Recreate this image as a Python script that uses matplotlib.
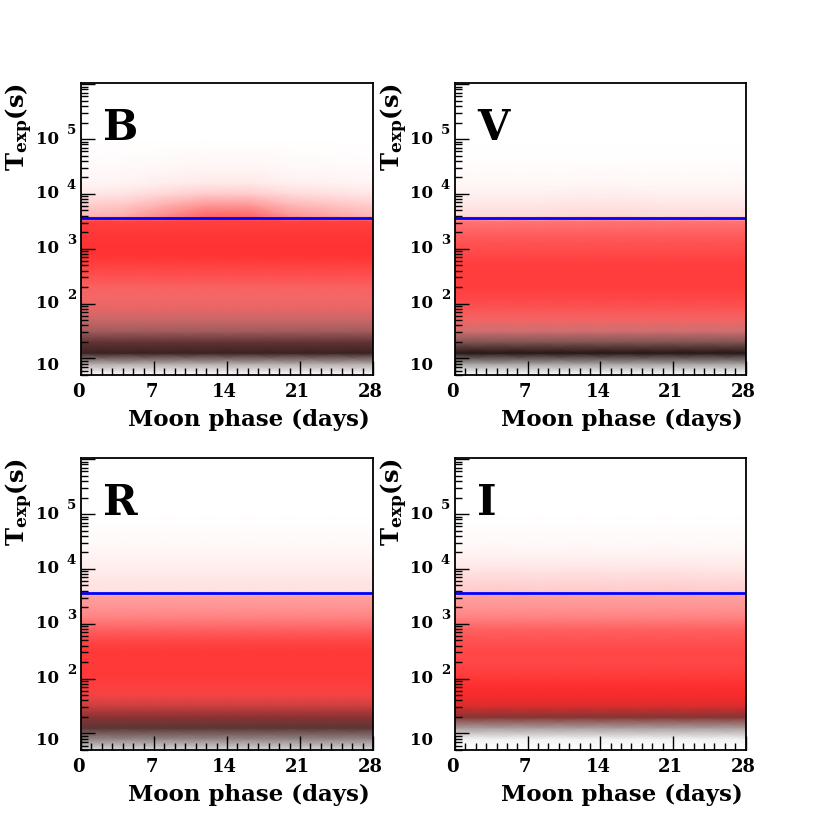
import numpy as np
import matplotlib
matplotlib.use('Agg')
import matplotlib.pyplot as plt
from matplotlib.ticker import LogLocator, NullFormatter, MultipleLocator
from matplotlib.transforms import blended_transform_factory, offset_copy, ScaledTranslation

plt.rcParams['font.family'] = ['DejaVu Serif']
plt.rcParams['font.weight'] = 'bold'
plt.rcParams['mathtext.fontset'] = 'custom'
plt.rcParams['mathtext.rm'] = 'DejaVu Serif:bold'
plt.rcParams['mathtext.bf'] = 'DejaVu Serif:bold'
plt.rcParams['mathtext.it'] = 'DejaVu Serif:bold'

# log10(T_exp) nodes where the point density was read
log_t = [0.7, 0.9, 1.1, 1.3, 1.5, 1.7, 1.9, 2.1, 2.3, 2.5, 2.7,
         2.9, 3.1, 3.3, 3.5, 3.6, 3.8, 4.0, 4.2, 4.5, 5.0, 6.1]
# moon phase nodes (days)
phase = [0, 4, 8, 12, 16, 20, 24, 28]

filters = ['B', 'V', 'R', 'I']

# density of red points (0..1) along log_t
red_B = [0.0, 0.04, 0.1, 0.18, 0.28, 0.38, 0.5, 0.55, 0.6, 0.68, 0.75,
         0.8, 0.8, 0.78, 0.75, 0.35, 0.24, 0.12, 0.05, 0.02, 0.0, 0.0]
red_V = [0.0, 0.02, 0.06, 0.18, 0.38, 0.55, 0.65, 0.72, 0.76, 0.76, 0.76,
         0.72, 0.68, 0.62, 0.55, 0.14, 0.1, 0.06, 0.03, 0.01, 0.0, 0.0]
red_R = [0.0, 0.05, 0.15, 0.35, 0.55, 0.7, 0.75, 0.78, 0.78, 0.78, 0.72,
         0.62, 0.5, 0.42, 0.38, 0.12, 0.1, 0.07, 0.05, 0.02, 0.0, 0.0]
red_I = [0.0, 0.0, 0.05, 0.32, 0.68, 0.8, 0.8, 0.76, 0.72, 0.72, 0.68,
         0.62, 0.5, 0.42, 0.38, 0.2, 0.15, 0.1, 0.06, 0.02, 0.0, 0.0]

# density of black points along log_t
black_B = [0.0, 0.3, 0.85, 0.75, 0.5, 0.35, 0.2, 0.1, 0.05, 0.02, 0.0,
           0.0, 0.0, 0.0, 0.0, 0.0, 0.0, 0.0, 0.0, 0.0, 0.0, 0.0]
black_V = [0.0, 0.35, 0.9, 0.6, 0.3, 0.12, 0.05, 0.02, 0.0, 0.0, 0.0,
           0.0, 0.0, 0.0, 0.0, 0.0, 0.0, 0.0, 0.0, 0.0, 0.0, 0.0]
black_R = [0.15, 0.45, 0.75, 0.7, 0.45, 0.12, 0.03, 0.0, 0.0, 0.0, 0.0,
           0.0, 0.0, 0.0, 0.0, 0.0, 0.0, 0.0, 0.0, 0.0, 0.0, 0.0]
black_I = [0.0, 0.05, 0.35, 0.7, 0.45, 0.15, 0.05, 0.0, 0.0, 0.0, 0.0,
           0.0, 0.0, 0.0, 0.0, 0.0, 0.0, 0.0, 0.0, 0.0, 0.0, 0.0]

# variation with moon phase of the red points above the 1 h line
phase_B = [0.8, 0.9, 1.3, 1.7, 1.7, 1.2, 1.0, 0.8]
phase_V = [1.0, 1.0, 1.0, 1.1, 1.1, 1.0, 1.0, 1.0]
phase_R = [1.0, 1.0, 1.0, 1.0, 1.0, 1.0, 1.0, 1.0]
phase_I = [1.0, 1.05, 1.0, 1.05, 1.0, 1.05, 1.0, 1.0]

red = {'B': red_B, 'V': red_V, 'R': red_R, 'I': red_I}
black = {'B': black_B, 'V': black_V, 'R': black_R, 'I': black_I}
pw = {'B': phase_B, 'V': phase_V, 'R': phase_R, 'I': phase_I}

t_cut = 3600  # 1 hour

fig = plt.figure(figsize=(8.3, 8.35), dpi=100)
boxes = {'B': [0.0976, 0.5509, 0.3518, 0.3497],
         'V': [0.5482, 0.5509, 0.3500, 0.3497],
         'R': [0.0976, 0.1018, 0.3518, 0.3497],
         'I': [0.5482, 0.1018, 0.3500, 0.3497]}

X, Y = np.meshgrid(phase, 10 ** np.array(log_t))
above = (np.array(log_t) > np.log10(t_cut))[:, None]

for f in filters:
    ax = fig.add_axes(boxes[f])
    ax.set_yscale('log')
    w = np.where(above, np.array(pw[f])[None, :], 1.0)
    ab = np.repeat(np.array(black[f])[:, None], len(phase), axis=1)
    ar = np.clip(np.array(red[f])[:, None] * w, 0, 1)
    # red points over black points over white paper
    rgb = np.ones(X.shape + (3,))
    rgb *= (1 - ab)[..., None]
    rgb = rgb * (1 - ar)[..., None] + ar[..., None] * np.array([1.0, 0.0, 0.0])
    ax.pcolormesh(X, Y, rgb, shading='gouraud', antialiased=False)
    ax.axhline(t_cut, color='#0000ff', lw=2)

    ax.set_xlim(0, 28)
    ax.set_ylim(5, 1.05e6)
    ax.set_xticks([0, 7, 14, 21, 28])
    ax.xaxis.set_minor_locator(MultipleLocator(1))
    ax.tick_params(axis='x', which='major', direction='in', length=10, width=1,
                   labelsize=13, pad=6, top=False)
    ax.tick_params(axis='x', which='minor', direction='in', length=5, width=1, top=False)
    shift = ScaledTranslation(-2.5 / 100, 0, fig.dpi_scale_trans)
    for lab in ax.get_xticklabels():
        lab.set_transform(lab.get_transform() + shift)
    ax.yaxis.set_major_locator(LogLocator(base=10, numticks=10))
    ax.yaxis.set_minor_locator(LogLocator(base=10, subs=np.arange(2, 10), numticks=10))
    ax.yaxis.set_major_formatter(NullFormatter())
    ax.yaxis.set_minor_formatter(NullFormatter())
    ax.tick_params(axis='y', which='major', direction='in', length=10, width=1, right=False)
    ax.tick_params(axis='y', which='minor', direction='in', length=5, width=1, right=False)
    for s in ax.spines.values():
        s.set_linewidth(1.3)
    ax.set_axisbelow(False)

    # ROOT-like "10 ^k" labels
    tr = blended_transform_factory(ax.transAxes, ax.transData)
    for k in [1, 2, 3, 4, 5]:
        dy = -5 if k == 1 else 0
        ax.text(-0.075, 10 ** k, '10', fontsize=12, ha='right', va='center',
                transform=offset_copy(tr, fig=fig, x=0, y=dy, units='points'))
        if k > 1:
            ax.text(-0.033, 10 ** k, str(k), fontsize=9.5, ha='center', va='center',
                    transform=offset_copy(tr, fig=fig, x=0, y=6, units='points'))

    ax.text(0.99, -0.155, 'Moon phase (days)', fontsize=16.5, ha='right', va='center',
            transform=ax.transAxes)
    ax.text(-0.21, 1.0, r'$\mathrm{T}_{\mathrm{exp}}\mathrm{(s)}$', fontsize=17.5,
            rotation=90, ha='center', va='top', transform=ax.transAxes)
    ax.text(0.075, 0.805, f, fontsize=30, ha='left', va='baseline',
            transform=ax.transAxes)

fig.savefig('out.png', dpi=100)
